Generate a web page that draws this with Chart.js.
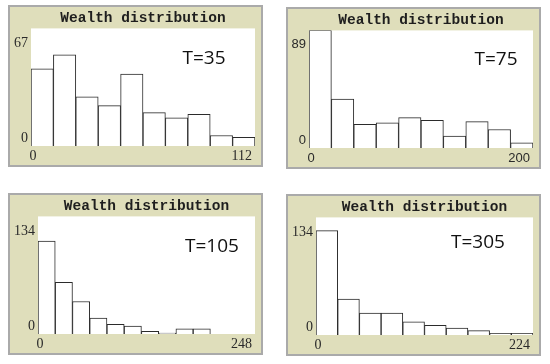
<!DOCTYPE html>
<html><head><meta charset="utf-8">
<script src="https://cdn.jsdelivr.net/npm/chart.js@4/dist/chart.umd.min.js"></script>
<style>
html,body{margin:0;padding:0;background:#fff;width:550px;height:364px;overflow:hidden}
body{position:relative}
.frame{position:absolute;box-sizing:border-box;width:255px;height:162px;border:2px solid #aaaaaa;background:#dfdebb}
.frame canvas{display:block}
.tlabel{position:absolute;font-family:'Open Sans',sans-serif;font-size:19px;color:#111;transform:translate(-50%,-50%);white-space:nowrap;line-height:1}
</style></head><body>
<div class="frame" style="left:8px;top:5px"><canvas id="c0" width="251" height="158"></canvas></div>
<div class="frame" style="left:286px;top:7px"><canvas id="c1" width="251" height="158"></canvas></div>
<div class="frame" style="left:8px;top:193px"><canvas id="c2" width="251" height="158"></canvas></div>
<div class="frame" style="left:286px;top:194px"><canvas id="c3" width="251" height="158"></canvas></div>
<div class="tlabel" style="left:204px;top:57px">T=35</div>
<div class="tlabel" style="left:496px;top:58px">T=75</div>
<div class="tlabel" style="left:212px;top:245px">T=105</div>
<div class="tlabel" style="left:478px;top:241px">T=305</div>
<script>
// ---- data ----
const plotTitle = "Wealth distribution";
const timeLabels = ["T=35", "T=75", "T=105", "T=305"];
const xMaxValues = [112, 200, 248, 224];
const yMaxValues = [67, 89, 134, 134];
const binWidths = [11.2, 20, 19.7, 22.4];
const countsT35 = [44, 52, 28, 23, 41, 19, 16, 18, 6, 5];
const countsT75 = [89, 37, 18, 19, 23, 21, 9, 20, 14, 4];
const countsT105 = [106, 59, 37, 18, 11, 9, 3, 1, 6, 6];
const countsT305 = [119, 41, 25, 25, 15, 11, 8, 5, 2, 2];

const allCounts = [countsT35, countsT75, countsT105, countsT305];
const tickFamilies = ["'Liberation Serif', serif", "'Liberation Sans', sans-serif", "'Liberation Serif', serif", "'Liberation Serif', serif"];
const tickSizes = [14, 13, 14, 14];

const plotBg = {
  id: 'plotBg',
  beforeDraw(chart) {
    const {ctx, chartArea: a} = chart;
    ctx.save();
    ctx.fillStyle = '#ffffff';
    ctx.fillRect(a.left, a.top, a.right - a.left, a.bottom - a.top);
    ctx.restore();
  }
};

const edgeLabels = {
  id: 'edgeLabels',
  afterDraw(chart, args, o) {
    const {ctx, chartArea: a, scales: {x, y}} = chart;
    ctx.save();
    ctx.font = o.font;
    ctx.fillStyle = o.color;
    y.ticks.forEach(t => {
      const py = y.getPixelForValue(t.value);
      ctx.textAlign = 'right';
      if (t.value === y.max) {
        ctx.textBaseline = 'top';
        ctx.fillText(String(t.value), a.left - 3, py + 8);
      } else {
        ctx.textBaseline = 'alphabetic';
        ctx.fillText(String(t.value), a.left - 3, py - 4);
      }
    });
    x.ticks.forEach(t => {
      const px = x.getPixelForValue(t.value);
      ctx.textBaseline = 'alphabetic';
      if (t.value === x.min) {
        ctx.textAlign = 'center';
        ctx.fillText(String(t.value), px + 2, a.bottom + 14);
      } else {
        ctx.textAlign = 'right';
        ctx.fillText(String(t.value), px - 3, a.bottom + 14);
      }
    });
    ctx.restore();
  }
};

allCounts.forEach((counts, i) => {
  const xMax = xMaxValues[i], yMax = yMaxValues[i], bw = binWidths[i];
  const labelFont = tickSizes[i] + 'px ' + tickFamilies[i];
  new Chart(document.getElementById('c' + i), {
    type: 'bar',
    data: {
      datasets: [{
        label: timeLabels[i],
        data: counts.map((v, k) => ({x: (k + 0.5) * bw, y: v})),
        backgroundColor: '#ffffff',
        borderColor: '#2b2b2b',
        borderWidth: 1,
        barPercentage: 1,
        categoryPercentage: 1
      }]
    },
    options: {
      responsive: false,
      animation: false,
      devicePixelRatio: 1,
      layout: {padding: {left: 0, right: 6, top: 0, bottom: 0}},
      plugins: {
        legend: {display: false},
        tooltip: {enabled: false},
        title: {
          display: true,
          text: plotTitle,
          fullSize: false,
          color: '#1e1e1e',
          font: {family: "'Liberation Mono', monospace", size: 14.5, weight: 'bold', lineHeight: 1.2},
          padding: {top: 3, bottom: 1}
        },
        edgeLabels: {font: labelFont, color: '#2a2a2a'}
      },
      scales: {
        x: {
          type: 'linear',
          min: 0,
          max: xMax,
          offset: false,
          grid: {display: false, drawTicks: false},
          border: {display: false},
          ticks: {display: false},
          afterBuildTicks(s) { s.ticks = [{value: 0}, {value: xMax}]; },
          afterFit(s) { s.height = 19; }
        },
        y: {
          min: 0,
          max: yMax,
          grid: {display: false, drawTicks: false},
          border: {display: false},
          ticks: {display: false},
          afterBuildTicks(s) { s.ticks = [{value: 0}, {value: yMax}]; },
          afterFit(s) {
            const c = s.ctx;
            c.save();
            c.font = labelFont;
            const w = c.measureText(String(yMax)).width;
            c.restore();
            s.width = Math.round(w) + 7;
          }
        }
      }
    },
    plugins: [plotBg, edgeLabels]
  });
});
</script>
</body></html>
